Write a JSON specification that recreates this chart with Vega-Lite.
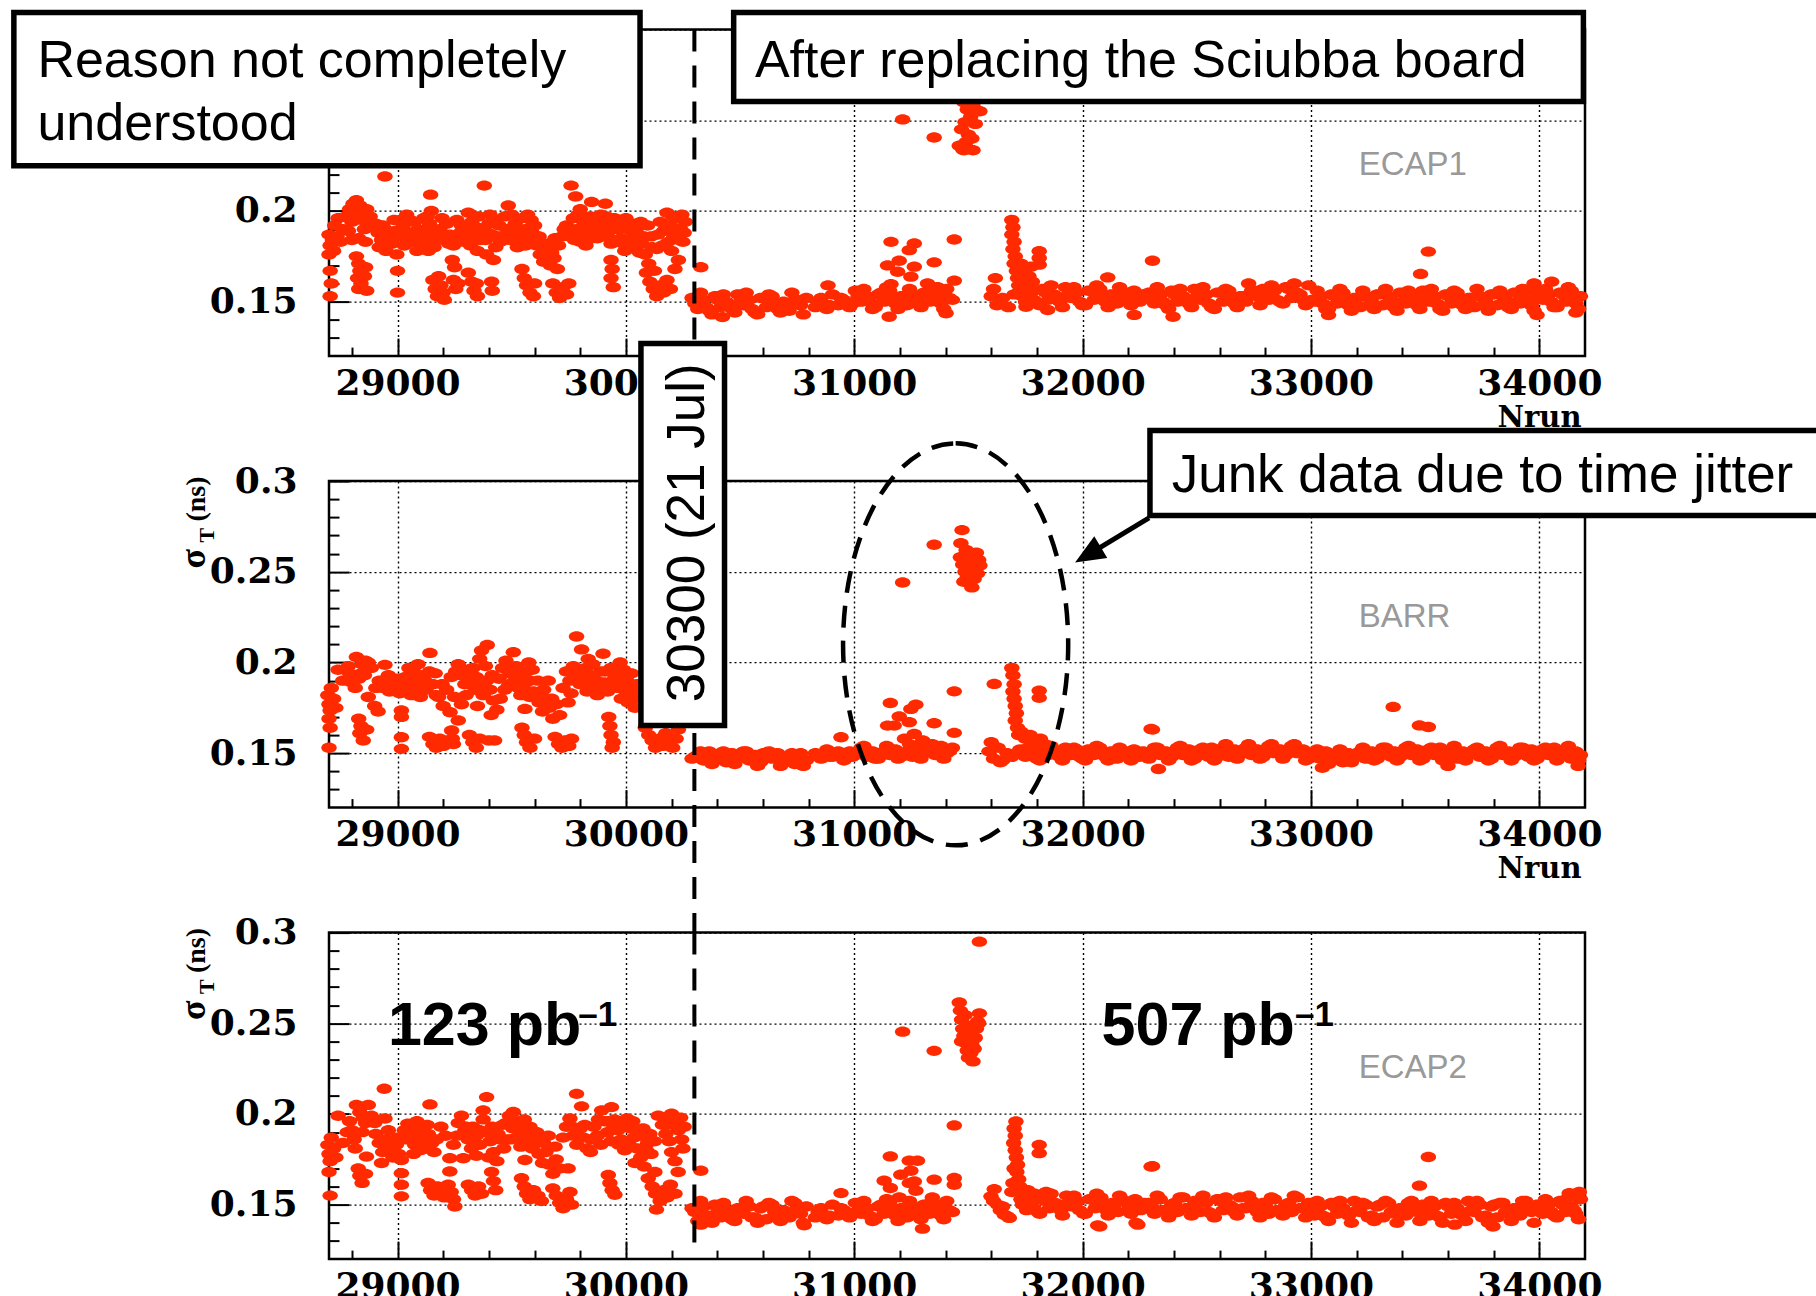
{
  "$schema": "https://vega.github.io/schema/vega-lite/v6.json",
  "autosize": {"type": "none"},
  "padding": {"left": 329, "top": 29.6, "right": 1487, "bottom": 1266.4},
  "background": "white",
  "bounds": "flush",
  "spacing": 124.5,
  "config": {
    "view": {"stroke": "#000", "strokeWidth": 2.5},
    "axis": {"domain": false, "grid": true, "gridColor": "#000", "gridDash": [2, 3], "gridWidth": 1.4, "tickColor": "#000", "tickWidth": 2, "labelColor": "#000", "labelFont": "DejaVu Serif", "labelFontWeight": "bold", "labelFlush": false, "labelOverlap": false, "titleColor": "#000"}
  },
  "datasets": {
    "e1": [
      {"n":28700,"s":0.187},{"n":28705,"s":0.181},{"n":28700,"s":0.176},{"n":28715,"s":0.184},{"n":28720,"s":0.178},{"n":28735,"s":0.186},{"n":28705,"s":0.167},{"n":28710,"s":0.160},{"n":28705,"s":0.153},{"n":28740,"s":0.196},{"n":28760,"s":0.190},
      {"n":28775,"s":0.197},{"n":28790,"s":0.201},{"n":28805,"s":0.204},{"n":28820,"s":0.206},{"n":28835,"s":0.203},{"n":28850,"s":0.199},{"n":28865,"s":0.201},{"n":28880,"s":0.197},{"n":28890,"s":0.193},{"n":28800,"s":0.194},{"n":28845,"s":0.195},{"n":28870,"s":0.192},
      {"n":28800,"s":0.184},{"n":28830,"s":0.185},{"n":28860,"s":0.183},
      {"n":28820,"s":0.175},{"n":28830,"s":0.171},{"n":28835,"s":0.167},{"n":28825,"s":0.163},{"n":28840,"s":0.160},{"n":28830,"s":0.157},{"n":28860,"s":0.169},{"n":28855,"s":0.164},{"n":28865,"s":0.156},
      {"n":28945,"s":0.219},
      {"n":28915,"s":0.188},{"n":28930,"s":0.184},{"n":28945,"s":0.190},{"n":28960,"s":0.186},{"n":28975,"s":0.182},{"n":28990,"s":0.189},{"n":28920,"s":0.180},{"n":28950,"s":0.178},
      {"n":28997,"s":0.176},{"n":29000,"s":0.167},{"n":29000,"s":0.155},
      {"n":29010,"s":0.186},{"n":29020,"s":0.190},{"n":29025,"s":0.192},{"n":29040,"s":0.198},{"n":29050,"s":0.188},{"n":29055,"s":0.195},{"n":29065,"s":0.183},{"n":29075,"s":0.194},{"n":29090,"s":0.190},{"n":29100,"s":0.184},{"n":29105,"s":0.188},{"n":29115,"s":0.196},{"n":29125,"s":0.189},{"n":29140,"s":0.193},{"n":29150,"s":0.185},{"n":29160,"s":0.180},{"n":29030,"s":0.181},{"n":29085,"s":0.178},{"n":29135,"s":0.178},{"n":29170,"s":0.188},
      {"n":29145,"s":0.209},{"n":29148,"s":0.200},
      {"n":29155,"s":0.162},{"n":29165,"s":0.157},{"n":29175,"s":0.153},{"n":29190,"s":0.159},{"n":29200,"s":0.155},{"n":29180,"s":0.164},{"n":29205,"s":0.151},
      {"n":29185,"s":0.190},{"n":29200,"s":0.184},{"n":29215,"s":0.193},{"n":29230,"s":0.187},{"n":29245,"s":0.181},{"n":29260,"s":0.195},{"n":29275,"s":0.188},{"n":29280,"s":0.192},{"n":29290,"s":0.183},{"n":29305,"s":0.191},
      {"n":29240,"s":0.173},{"n":29250,"s":0.169},{"n":29245,"s":0.162},{"n":29255,"s":0.157},{"n":29265,"s":0.160},
      {"n":29310,"s":0.199},{"n":29325,"s":0.194},{"n":29330,"s":0.185},{"n":29340,"s":0.187},{"n":29355,"s":0.197},{"n":29320,"s":0.181},{"n":29350,"s":0.178},
      {"n":29310,"s":0.166},{"n":29325,"s":0.161},{"n":29335,"s":0.156},{"n":29350,"s":0.153},{"n":29345,"s":0.160},
      {"n":29380,"s":0.214},{"n":29370,"s":0.190},{"n":29385,"s":0.184},{"n":29400,"s":0.193},{"n":29405,"s":0.198},{"n":29415,"s":0.187},{"n":29430,"s":0.180},{"n":29440,"s":0.186},{"n":29445,"s":0.192},{"n":29460,"s":0.186},{"n":29390,"s":0.176},{"n":29420,"s":0.173},
      {"n":29412,"s":0.161},{"n":29415,"s":0.156},
      {"n":29470,"s":0.197},{"n":29485,"s":0.203},{"n":29500,"s":0.198},{"n":29510,"s":0.188},{"n":29515,"s":0.193},{"n":29530,"s":0.188},{"n":29545,"s":0.196},{"n":29560,"s":0.190},{"n":29575,"s":0.185},{"n":29585,"s":0.195},{"n":29590,"s":0.188},{"n":29495,"s":0.184},{"n":29525,"s":0.180},{"n":29560,"s":0.181},
      {"n":29545,"s":0.168},{"n":29555,"s":0.163},{"n":29565,"s":0.159},{"n":29580,"s":0.155},{"n":29595,"s":0.153},{"n":29600,"s":0.160},
      {"n":29610,"s":0.181},{"n":29625,"s":0.176},{"n":29640,"s":0.172},{"n":29655,"s":0.178},{"n":29670,"s":0.170},{"n":29685,"s":0.174},{"n":29700,"s":0.168},{"n":29690,"s":0.185},
      {"n":29680,"s":0.160},{"n":29695,"s":0.155},{"n":29710,"s":0.152},{"n":29725,"s":0.158},{"n":29740,"s":0.154},{"n":29750,"s":0.160},
      {"n":29760,"s":0.214},{"n":29780,"s":0.208},{"n":29800,"s":0.201},{"n":29720,"s":0.186},{"n":29740,"s":0.192},{"n":29755,"s":0.186},{"n":29770,"s":0.196},{"n":29775,"s":0.184},{"n":29785,"s":0.190},{"n":29800,"s":0.183},{"n":29815,"s":0.194},{"n":29825,"s":0.181},{"n":29830,"s":0.188},
      {"n":29850,"s":0.205},{"n":29910,"s":0.204},{"n":29845,"s":0.197},{"n":29860,"s":0.191},{"n":29870,"s":0.196},{"n":29875,"s":0.185},{"n":29890,"s":0.198},{"n":29905,"s":0.193},{"n":29920,"s":0.188},{"n":29935,"s":0.182},{"n":29950,"s":0.196},{"n":29960,"s":0.184},{"n":29965,"s":0.190},{"n":29980,"s":0.185},{"n":29995,"s":0.178},
      {"n":29935,"s":0.173},{"n":29940,"s":0.168},{"n":29935,"s":0.163},{"n":29945,"s":0.158},
      {"n":30010,"s":0.190},{"n":30025,"s":0.185},{"n":30030,"s":0.193},{"n":30040,"s":0.179},{"n":30055,"s":0.187},{"n":30060,"s":0.177},{"n":30070,"s":0.182},{"n":30085,"s":0.176},{"n":30100,"s":0.171},{"n":30110,"s":0.186},{"n":30115,"s":0.180},{"n":30125,"s":0.167},{"n":30135,"s":0.179},
      {"n":30090,"s":0.166},{"n":30105,"s":0.161},{"n":30120,"s":0.157},{"n":30135,"s":0.153},{"n":30150,"s":0.159},{"n":30165,"s":0.155},{"n":30180,"s":0.162},{"n":30195,"s":0.157},
      {"n":30150,"s":0.194},{"n":30165,"s":0.189},{"n":30180,"s":0.199},{"n":30185,"s":0.183},{"n":30195,"s":0.192},{"n":30210,"s":0.186},{"n":30225,"s":0.196},{"n":30240,"s":0.190},{"n":30250,"s":0.183},{"n":30245,"s":0.198},{"n":30255,"s":0.188},{"n":30200,"s":0.178},{"n":30230,"s":0.173},{"n":30215,"s":0.168},
      {"n":29015,"s":0.195},{"n":29045,"s":0.184},{"n":29080,"s":0.187},{"n":29110,"s":0.181},{"n":29130,"s":0.197},{"n":29195,"s":0.196},{"n":29225,"s":0.182},{"n":29270,"s":0.185},{"n":29300,"s":0.187},{"n":29345,"s":0.191},{"n":29360,"s":0.184},{"n":29395,"s":0.188},{"n":29425,"s":0.195},{"n":29450,"s":0.183},{"n":29480,"s":0.190},{"n":29505,"s":0.186},{"n":29540,"s":0.184},{"n":29570,"s":0.198},{"n":29600,"s":0.192},{"n":29620,"s":0.186},{"n":29650,"s":0.182},{"n":29675,"s":0.177},{"n":29705,"s":0.181},{"n":29730,"s":0.190},{"n":29790,"s":0.198},{"n":29810,"s":0.187},{"n":29840,"s":0.191},{"n":29855,"s":0.185},{"n":29885,"s":0.190},{"n":29900,"s":0.186},{"n":29915,"s":0.197},{"n":29930,"s":0.191},{"n":29975,"s":0.194},{"n":29990,"s":0.182},{"n":30000,"s":0.196},{"n":30020,"s":0.180},{"n":30045,"s":0.190},{"n":30065,"s":0.194},{"n":30080,"s":0.186},{"n":30095,"s":0.192},{"n":30140,"s":0.187},{"n":30160,"s":0.181},{"n":30175,"s":0.192},{"n":30205,"s":0.197},{"n":30220,"s":0.190},{"n":30235,"s":0.184},{"n":30260,"s":0.194},{"n":28725,"s":0.192},{"n":28750,"s":0.183},{"n":28785,"s":0.189},{"n":28815,"s":0.198},{"n":28855,"s":0.190},{"n":28905,"s":0.193},{"n":28935,"s":0.192},{"n":28985,"s":0.195},
      {"n":30290,"s":0.152},{"n":30315,"s":0.146},{"n":30340,"s":0.151},{"n":30365,"s":0.145},{"n":30390,"s":0.153},{"n":30415,"s":0.147},{"n":30440,"s":0.150},{"n":30465,"s":0.146},{"n":30490,"s":0.154},{"n":30515,"s":0.148},{"n":30540,"s":0.151},{"n":30565,"s":0.144},{"n":30590,"s":0.152},{"n":30615,"s":0.147},{"n":30640,"s":0.153},{"n":30665,"s":0.146},{"n":30690,"s":0.150},{"n":30715,"s":0.145},{"n":30740,"s":0.151},{"n":30765,"s":0.148},{"n":30790,"s":0.152},{"n":30423,"s":0.1415},{"n":30328,"s":0.169},
      {"n":30830,"s":0.147},{"n":30855,"s":0.152},{"n":30880,"s":0.146},{"n":30905,"s":0.154},{"n":30930,"s":0.148},{"n":30955,"s":0.151},{"n":30980,"s":0.147},{"n":30885,"s":0.159},
      {"n":31005,"s":0.156},{"n":31030,"s":0.150},{"n":31055,"s":0.153},{"n":31080,"s":0.146},{"n":31105,"s":0.154},{"n":31130,"s":0.150},{"n":31155,"s":0.156},{"n":31180,"s":0.149},{"n":31205,"s":0.153},{"n":31230,"s":0.148},{"n":31255,"s":0.154},{"n":31280,"s":0.151},{"n":31305,"s":0.155},{"n":31330,"s":0.150},{"n":31355,"s":0.155},{"n":31380,"s":0.149},{"n":31405,"s":0.157},{"n":31430,"s":0.151},
      {"n":31161,"s":0.183},{"n":31146,"s":0.170},{"n":31190,"s":0.1665},{"n":31197,"s":0.1726},{"n":31241,"s":0.1784},{"n":31263,"s":0.1821},{"n":31263,"s":0.1693},{"n":31248,"s":0.1638},{"n":31350,"s":0.1717},{"n":31438,"s":0.1843},{"n":31438,"s":0.1616},{"n":31161,"s":0.1597},{"n":31153,"s":0.1417},{"n":31402,"s":0.1436},{"n":31321,"s":0.160},{"n":31365,"s":0.158},
      {"n":31460,"s":0.236},{"n":31475,"s":0.234},{"n":31490,"s":0.238},{"n":31500,"s":0.242},{"n":31470,"s":0.245},{"n":31485,"s":0.249},{"n":31510,"s":0.252},{"n":31495,"s":0.256},{"n":31480,"s":0.260},{"n":31505,"s":0.264},{"n":31520,"s":0.258},{"n":31530,"s":0.248},{"n":31540,"s":0.262},{"n":31525,"s":0.268},{"n":31545,"s":0.272},{"n":31510,"s":0.275},{"n":31535,"s":0.278},{"n":31490,"s":0.270},{"n":31550,"s":0.255},{"n":31515,"s":0.240},{"n":31480,"s":0.2335},{"n":31520,"s":0.2335},{"n":31212,"s":0.2505},{"n":31350,"s":0.2405},
      {"n":31600,"s":0.153},{"n":31625,"s":0.148},{"n":31650,"s":0.152},{"n":31675,"s":0.147},{"n":31700,"s":0.154},{"n":31618,"s":0.163},{"n":31610,"s":0.157},
      {"n":31690,"s":0.195},{"n":31695,"s":0.191},{"n":31690,"s":0.187},{"n":31700,"s":0.183},{"n":31695,"s":0.179},{"n":31705,"s":0.175},{"n":31700,"s":0.171},{"n":31710,"s":0.167},{"n":31715,"s":0.163},{"n":31720,"s":0.159},{"n":31730,"s":0.171},{"n":31745,"s":0.166},{"n":31765,"s":0.164},{"n":31810,"s":0.1778},{"n":31810,"s":0.1741},{"n":31810,"s":0.1704},{"n":31774,"s":0.1693},{"n":31740,"s":0.160},{"n":31760,"s":0.158},{"n":31780,"s":0.161},
      {"n":31725,"s":0.156},{"n":31750,"s":0.150},{"n":31775,"s":0.155},{"n":31800,"s":0.149},{"n":31825,"s":0.157},{"n":31850,"s":0.151},{"n":31875,"s":0.154},{"n":31900,"s":0.150},{"n":31925,"s":0.158},{"n":31950,"s":0.152},{"n":31975,"s":0.155},{"n":32000,"s":0.148},{"n":32025,"s":0.156},{"n":32050,"s":0.151},{"n":32075,"s":0.157},{"n":32100,"s":0.150},{"n":32125,"s":0.154},{"n":32150,"s":0.149},{"n":32175,"s":0.155},{"n":32200,"s":0.152},{"n":32225,"s":0.156},{"n":32250,"s":0.150},{"n":32265,"s":0.154},{"n":31752,"s":0.1472},{"n":31847,"s":0.1454},{"n":32110,"s":0.1634},{"n":32226,"s":0.1427},
      {"n":32290,"s":0.155},{"n":32315,"s":0.149},{"n":32340,"s":0.154},{"n":32365,"s":0.148},{"n":32390,"s":0.156},{"n":32415,"s":0.150},{"n":32440,"s":0.153},{"n":32465,"s":0.149},{"n":32490,"s":0.157},{"n":32515,"s":0.151},{"n":32540,"s":0.154},{"n":32565,"s":0.147},{"n":32590,"s":0.155},{"n":32615,"s":0.150},{"n":32640,"s":0.156},{"n":32665,"s":0.149},{"n":32690,"s":0.153},{"n":32715,"s":0.150},{"n":32740,"s":0.156},{"n":32765,"s":0.153},{"n":32790,"s":0.157},{"n":32815,"s":0.151},{"n":32840,"s":0.156},{"n":32865,"s":0.150},{"n":32890,"s":0.158},{"n":32915,"s":0.152},{"n":32940,"s":0.155},{"n":32965,"s":0.151},{"n":32990,"s":0.159},
      {"n":33015,"s":0.150},{"n":33040,"s":0.153},{"n":33065,"s":0.146},{"n":33090,"s":0.154},{"n":33115,"s":0.149},{"n":33140,"s":0.155},{"n":33165,"s":0.148},{"n":33190,"s":0.152},{"n":33215,"s":0.147},{"n":33240,"s":0.153},{"n":33265,"s":0.150},{"n":33290,"s":0.154},{"n":33315,"s":0.148},{"n":33340,"s":0.153},{"n":33365,"s":0.147},{"n":33390,"s":0.155},{"n":33415,"s":0.149},{"n":33440,"s":0.152},{"n":33465,"s":0.148},{"n":33490,"s":0.156},{"n":33515,"s":0.150},{"n":33540,"s":0.153},{"n":33565,"s":0.146},{"n":33590,"s":0.154},{"n":33615,"s":0.149},{"n":33640,"s":0.155},{"n":33665,"s":0.148},{"n":33690,"s":0.152},{"n":33715,"s":0.147},{"n":33740,"s":0.153},{"n":33765,"s":0.150},{"n":33790,"s":0.154},{"n":33815,"s":0.148},{"n":33840,"s":0.153},{"n":33865,"s":0.147},{"n":33890,"s":0.155},{"n":33915,"s":0.149},{"n":33940,"s":0.152},{"n":33965,"s":0.148},{"n":33990,"s":0.156},{"n":34015,"s":0.151},{"n":34040,"s":0.154},{"n":34065,"s":0.147},{"n":34090,"s":0.155},{"n":34115,"s":0.150},{"n":34140,"s":0.156},{"n":34160,"s":0.149},{"n":34180,"s":0.153},
      {"n":32306,"s":0.1726},{"n":33514,"s":0.1776},{"n":33480,"s":0.1653},{"n":32396,"s":0.1417},{"n":33077,"s":0.1426},{"n":33990,"s":0.1426},{"n":34160,"s":0.144},{"n":33977,"s":0.160},{"n":34054,"s":0.161},
      {"n":30302,"s":0.149},{"n":30352,"s":0.147},{"n":30402,"s":0.151},{"n":30452,"s":0.148},{"n":30502,"s":0.150},{"n":30552,"s":0.146},{"n":30602,"s":0.152},{"n":30652,"s":0.149},{"n":30702,"s":0.148},{"n":30752,"s":0.151},
      {"n":30842,"s":0.150},{"n":30892,"s":0.148},{"n":30942,"s":0.152},{"n":30992,"s":0.149},
      {"n":31017,"s":0.153},{"n":31067,"s":0.150},{"n":31117,"s":0.155},{"n":31167,"s":0.152},{"n":31217,"s":0.152},{"n":31267,"s":0.150},{"n":31317,"s":0.155},{"n":31367,"s":0.153},{"n":31417,"s":0.152},
      {"n":31737,"s":0.153},{"n":31787,"s":0.151},{"n":31837,"s":0.155},{"n":31887,"s":0.152},{"n":31937,"s":0.154},{"n":31987,"s":0.150},{"n":32037,"s":0.156},{"n":32087,"s":0.153},{"n":32137,"s":0.152},{"n":32187,"s":0.155},{"n":32237,"s":0.153},
      {"n":32302,"s":0.152},{"n":32352,"s":0.150},{"n":32402,"s":0.154},{"n":32452,"s":0.151},{"n":32502,"s":0.153},{"n":32552,"s":0.149},{"n":32602,"s":0.155},{"n":32652,"s":0.152},{"n":32702,"s":0.153},{"n":32752,"s":0.156},{"n":32802,"s":0.154},{"n":32852,"s":0.151},{"n":32902,"s":0.157},{"n":32952,"s":0.154},{"n":33002,"s":0.151},{"n":33052,"s":0.149},{"n":33102,"s":0.153},{"n":33152,"s":0.150},{"n":33202,"s":0.152},{"n":33252,"s":0.148},{"n":33302,"s":0.154},{"n":33352,"s":0.151},{"n":33402,"s":0.150},{"n":33452,"s":0.153},{"n":33502,"s":0.151},{"n":33552,"s":0.149},{"n":33602,"s":0.153},{"n":33652,"s":0.150},{"n":33702,"s":0.152},{"n":33752,"s":0.148},{"n":33802,"s":0.154},{"n":33852,"s":0.151},{"n":33902,"s":0.150},{"n":33952,"s":0.153},{"n":34002,"s":0.152},{"n":34052,"s":0.150},{"n":34102,"s":0.154},{"n":34152,"s":0.151},
      {"n":30327,"s":0.155},{"n":30377,"s":0.143},{"n":30427,"s":0.154},{"n":30477,"s":0.144},{"n":30527,"s":0.155},{"n":30577,"s":0.143},{"n":30627,"s":0.154},{"n":30677,"s":0.144},{"n":30727,"s":0.155},{"n":30777,"s":0.143},
      {"n":31042,"s":0.157},{"n":31092,"s":0.147},{"n":31142,"s":0.158},{"n":31192,"s":0.146},{"n":31242,"s":0.157},{"n":31292,"s":0.147},{"n":31342,"s":0.158},{"n":31392,"s":0.146},
      {"n":31762,"s":0.158},{"n":31812,"s":0.148},{"n":31862,"s":0.159},{"n":31912,"s":0.147},{"n":31962,"s":0.158},{"n":32012,"s":0.148},{"n":32062,"s":0.159},{"n":32112,"s":0.147},{"n":32162,"s":0.158},{"n":32212,"s":0.148},
      {"n":32327,"s":0.158},{"n":32377,"s":0.146},{"n":32427,"s":0.157},{"n":32477,"s":0.147},{"n":32527,"s":0.158},{"n":32577,"s":0.146},{"n":32627,"s":0.157},{"n":32677,"s":0.147},{"n":32727,"s":0.160},{"n":32777,"s":0.148},{"n":32827,"s":0.159},{"n":32877,"s":0.149},{"n":32927,"s":0.160},{"n":32977,"s":0.148},{"n":33027,"s":0.156},{"n":33077,"s":0.146},{"n":33127,"s":0.157},{"n":33177,"s":0.145},{"n":33227,"s":0.156},{"n":33277,"s":0.146},{"n":33327,"s":0.157},{"n":33377,"s":0.145},{"n":33427,"s":0.156},{"n":33477,"s":0.146},{"n":33527,"s":0.157},{"n":33577,"s":0.145},{"n":33627,"s":0.156},{"n":33677,"s":0.146},{"n":33727,"s":0.157},{"n":33777,"s":0.145},{"n":33827,"s":0.156},{"n":33877,"s":0.146},{"n":33927,"s":0.157},{"n":33977,"s":0.145},{"n":34027,"s":0.157},{"n":34077,"s":0.147},{"n":34127,"s":0.158},{"n":34172,"s":0.146}
    ],
    "br": [
      {"n":28695,"s":0.182},{"n":28700,"s":0.177},{"n":28705,"s":0.1735},{"n":28700,"s":0.169},{"n":28705,"s":0.164},{"n":28700,"s":0.153},{"n":28720,"s":0.180},{"n":28730,"s":0.175},{"n":28740,"s":0.196},
      {"n":28790,"s":0.194},{"n":28800,"s":0.189},{"n":28815,"s":0.186},{"n":28830,"s":0.191},{"n":28820,"s":0.203},{"n":28845,"s":0.199},{"n":28860,"s":0.201},{"n":28872,"s":0.200},{"n":28885,"s":0.197},{"n":28840,"s":0.194},
      {"n":28830,"s":0.169},{"n":28840,"s":0.165},{"n":28835,"s":0.161},{"n":28850,"s":0.157},{"n":28865,"s":0.163},
      {"n":28872,"s":0.181},{"n":28900,"s":0.176},{"n":28915,"s":0.173},{"n":28945,"s":0.1987},
      {"n":28920,"s":0.190},{"n":28935,"s":0.186},{"n":28950,"s":0.188},{"n":28965,"s":0.184},{"n":28980,"s":0.190},{"n":28995,"s":0.186},{"n":29010,"s":0.183},
      {"n":29017,"s":0.1735},{"n":29017,"s":0.170},{"n":29017,"s":0.1588},{"n":29017,"s":0.1524},
      {"n":29035,"s":0.192},{"n":29050,"s":0.197},{"n":29065,"s":0.189},{"n":29080,"s":0.194},{"n":29095,"s":0.186},{"n":29110,"s":0.191},{"n":29125,"s":0.185},{"n":29140,"s":0.195},{"n":29155,"s":0.188},{"n":29170,"s":0.182},{"n":29045,"s":0.184},{"n":29100,"s":0.181},{"n":29142,"s":0.2053},
      {"n":29140,"s":0.159},{"n":29155,"s":0.155},{"n":29170,"s":0.153},{"n":29185,"s":0.158},{"n":29200,"s":0.154},
      {"n":29180,"s":0.181},{"n":29200,"s":0.176},{"n":29250,"s":0.181},{"n":29230,"s":0.1726},
      {"n":29237,"s":0.1625},{"n":29240,"s":0.158},{"n":29245,"s":0.155},{"n":29266,"s":0.168},
      {"n":29266,"s":0.199},{"n":29280,"s":0.193},{"n":29295,"s":0.188},{"n":29310,"s":0.196},{"n":29324,"s":0.190},{"n":29280,"s":0.177},
      {"n":29315,"s":0.160},{"n":29330,"s":0.156},{"n":29345,"s":0.153},{"n":29360,"s":0.158},
      {"n":29330,"s":0.197},{"n":29345,"s":0.192},{"n":29360,"s":0.187},{"n":29375,"s":0.182},{"n":29390,"s":0.190},{"n":29405,"s":0.185},{"n":29420,"s":0.179},{"n":29435,"s":0.174},{"n":29360,"s":0.202},{"n":29393,"s":0.2097},{"n":29368,"s":0.2066},{"n":29350,"s":0.176},{"n":29410,"s":0.171},
      {"n":29400,"s":0.157},{"n":29425,"s":0.157},
      {"n":29445,"s":0.191},{"n":29460,"s":0.197},{"n":29475,"s":0.201},{"n":29490,"s":0.194},{"n":29505,"s":0.189},{"n":29520,"s":0.198},{"n":29535,"s":0.192},{"n":29550,"s":0.186},{"n":29565,"s":0.195},{"n":29580,"s":0.190},{"n":29595,"s":0.184},{"n":29507,"s":0.2057},{"n":29470,"s":0.185},{"n":29540,"s":0.182},
      {"n":29545,"s":0.164},{"n":29555,"s":0.160},{"n":29565,"s":0.156},{"n":29580,"s":0.153},{"n":29600,"s":0.158},{"n":29558,"s":0.1744},{"n":29580,"s":0.181},
      {"n":29605,"s":0.183},{"n":29620,"s":0.178},{"n":29635,"s":0.173},{"n":29650,"s":0.180},{"n":29665,"s":0.175},{"n":29680,"s":0.169},{"n":29695,"s":0.177},{"n":29710,"s":0.171},
      {"n":29690,"s":0.159},{"n":29705,"s":0.155},{"n":29720,"s":0.153},{"n":29735,"s":0.157},{"n":29750,"s":0.154},{"n":29762,"s":0.158},{"n":29747,"s":0.178},
      {"n":29740,"s":0.195},{"n":29755,"s":0.190},{"n":29770,"s":0.198},{"n":29785,"s":0.192},{"n":29800,"s":0.188},{"n":29815,"s":0.196},{"n":29830,"s":0.190},{"n":29784,"s":0.2143},{"n":29806,"s":0.2072},{"n":29835,"s":0.202},{"n":29900,"s":0.2048},
      {"n":29830,"s":0.184},{"n":29845,"s":0.193},{"n":29860,"s":0.187},{"n":29875,"s":0.182},{"n":29890,"s":0.195},{"n":29905,"s":0.189},{"n":29920,"s":0.184},{"n":29935,"s":0.197},{"n":29950,"s":0.191},{"n":29965,"s":0.186},{"n":29980,"s":0.180},{"n":29995,"s":0.193},
      {"n":29925,"s":0.170},{"n":29930,"s":0.165},{"n":29935,"s":0.160},{"n":29945,"s":0.156},{"n":29940,"s":0.153},
      {"n":29975,"s":0.200},{"n":29990,"s":0.196},{"n":30005,"s":0.190},{"n":30020,"s":0.185},{"n":30035,"s":0.180},{"n":30040,"s":0.175},{"n":30010,"s":0.178},{"n":30050,"s":0.188},{"n":30058,"s":0.182},
      {"n":30085,"s":0.164},{"n":30100,"s":0.160},{"n":30115,"s":0.157},{"n":30130,"s":0.153},{"n":30145,"s":0.158},{"n":30160,"s":0.154},{"n":30175,"s":0.161},{"n":30190,"s":0.156},{"n":30205,"s":0.153},{"n":30220,"s":0.158},{"n":30230,"s":0.163},
      {"n":28710,"s":0.186},{"n":28760,"s":0.190},{"n":28785,"s":0.198},{"n":28855,"s":0.193},{"n":28905,"s":0.186},{"n":28960,"s":0.193},{"n":29000,"s":0.191},{"n":29025,"s":0.188},{"n":29060,"s":0.182},{"n":29090,"s":0.199},{"n":29120,"s":0.190},{"n":29165,"s":0.194},{"n":29195,"s":0.188},{"n":29215,"s":0.185},{"n":29235,"s":0.192},{"n":29255,"s":0.195},{"n":29300,"s":0.182},{"n":29340,"s":0.185},{"n":29385,"s":0.198},{"n":29415,"s":0.193},{"n":29450,"s":0.180},{"n":29485,"s":0.187},{"n":29515,"s":0.193},{"n":29530,"s":0.186},{"n":29560,"s":0.189},{"n":29575,"s":0.200},{"n":29590,"s":0.196},{"n":29615,"s":0.190},{"n":29640,"s":0.185},{"n":29660,"s":0.190},{"n":29675,"s":0.180},{"n":29725,"s":0.186},{"n":29760,"s":0.183},{"n":29795,"s":0.196},{"n":29825,"s":0.197},{"n":29855,"s":0.199},{"n":29870,"s":0.190},{"n":29885,"s":0.186},{"n":29910,"s":0.195},{"n":29945,"s":0.187},{"n":29960,"s":0.194},{"n":29985,"s":0.189},{"n":30000,"s":0.184},{"n":30025,"s":0.194},{"n":30045,"s":0.184},
      {"n":30290,"s":0.147},{"n":30315,"s":0.149},{"n":30340,"s":0.146},{"n":30365,"s":0.151},{"n":30390,"s":0.147},{"n":30415,"s":0.150},{"n":30440,"s":0.145},{"n":30465,"s":0.150},{"n":30490,"s":0.147},{"n":30515,"s":0.151},{"n":30540,"s":0.146},{"n":30565,"s":0.149},{"n":30590,"s":0.145},{"n":30615,"s":0.149},{"n":30640,"s":0.147},{"n":30665,"s":0.150},{"n":30690,"s":0.145},{"n":30715,"s":0.148},{"n":30740,"s":0.144},{"n":30765,"s":0.150},{"n":30790,"s":0.146},
      {"n":30830,"s":0.150},{"n":30855,"s":0.147},{"n":30880,"s":0.152},{"n":30905,"s":0.148},{"n":30930,"s":0.151},{"n":30955,"s":0.146},{"n":30980,"s":0.151},{"n":30942,"s":0.1588},
      {"n":31005,"s":0.149},{"n":31030,"s":0.153},{"n":31055,"s":0.148},{"n":31080,"s":0.151},{"n":31105,"s":0.147},{"n":31130,"s":0.151},{"n":31155,"s":0.149},{"n":31180,"s":0.152},{"n":31205,"s":0.148},{"n":31230,"s":0.151},{"n":31255,"s":0.148},{"n":31280,"s":0.154},{"n":31305,"s":0.150},{"n":31330,"s":0.152},{"n":31355,"s":0.149},{"n":31380,"s":0.154},{"n":31405,"s":0.150},{"n":31430,"s":0.153},
      {"n":31158,"s":0.1777},{"n":31197,"s":0.1702},{"n":31248,"s":0.1744},{"n":31270,"s":0.1768},{"n":31241,"s":0.1671},{"n":31263,"s":0.1606},{"n":31146,"s":0.1652},{"n":31175,"s":0.1652},{"n":31350,"s":0.1665},{"n":31438,"s":0.1841},{"n":31438,"s":0.1612},{"n":31220,"s":0.158},{"n":31300,"s":0.157},
      {"n":31465,"s":0.258},{"n":31475,"s":0.254},{"n":31485,"s":0.250},{"n":31495,"s":0.247},{"n":31505,"s":0.244},{"n":31515,"s":0.2414},{"n":31480,"s":0.2445},{"n":31500,"s":0.252},{"n":31520,"s":0.256},{"n":31530,"s":0.2525},{"n":31540,"s":0.249},{"n":31545,"s":0.2565},{"n":31535,"s":0.2605},{"n":31510,"s":0.2595},{"n":31490,"s":0.262},{"n":31472,"s":0.273},{"n":31467,"s":0.2658},{"n":31350,"s":0.2649},{"n":31212,"s":0.2441},{"n":31525,"s":0.246},{"n":31550,"s":0.2535},
      {"n":31590,"s":0.151},{"n":31610,"s":0.147},{"n":31630,"s":0.153},{"n":31650,"s":0.146},{"n":31670,"s":0.150},{"n":31690,"s":0.148},{"n":31600,"s":0.156},{"n":31640,"s":0.145},{"n":31613,"s":0.1882},
      {"n":31690,"s":0.197},{"n":31695,"s":0.193},{"n":31700,"s":0.188},{"n":31695,"s":0.184},{"n":31700,"s":0.180},{"n":31705,"s":0.176},{"n":31710,"s":0.172},{"n":31705,"s":0.168},{"n":31715,"s":0.164},{"n":31720,"s":0.160},{"n":31810,"s":0.1845},{"n":31810,"s":0.1805},{"n":31730,"s":0.162},{"n":31750,"s":0.158},{"n":31770,"s":0.160},{"n":31790,"s":0.156},{"n":31815,"s":0.158},{"n":31835,"s":0.155},{"n":31775,"s":0.154},
      {"n":31725,"s":0.152},{"n":31750,"s":0.148},{"n":31775,"s":0.151},{"n":31800,"s":0.147},{"n":31825,"s":0.153},{"n":31850,"s":0.149},{"n":31875,"s":0.151},{"n":31900,"s":0.148},{"n":31925,"s":0.153},{"n":31950,"s":0.149},{"n":31975,"s":0.152},{"n":32000,"s":0.147},{"n":32025,"s":0.152},{"n":32050,"s":0.149},{"n":32075,"s":0.153},{"n":32100,"s":0.148},{"n":32125,"s":0.151},{"n":32150,"s":0.147},{"n":32175,"s":0.151},{"n":32200,"s":0.149},{"n":32225,"s":0.152},{"n":32250,"s":0.148},{"n":32265,"s":0.151},{"n":32300,"s":0.1634},
      {"n":32290,"s":0.147},{"n":32315,"s":0.153},{"n":32340,"s":0.149},{"n":32365,"s":0.151},{"n":32390,"s":0.148},{"n":32415,"s":0.153},{"n":32440,"s":0.149},{"n":32465,"s":0.152},{"n":32490,"s":0.147},{"n":32515,"s":0.152},{"n":32540,"s":0.149},{"n":32565,"s":0.153},{"n":32590,"s":0.148},{"n":32615,"s":0.151},{"n":32640,"s":0.148},{"n":32665,"s":0.152},{"n":32690,"s":0.150},{"n":32715,"s":0.153},{"n":32740,"s":0.149},{"n":32765,"s":0.152},{"n":32790,"s":0.148},{"n":32815,"s":0.154},{"n":32840,"s":0.150},{"n":32865,"s":0.152},{"n":32890,"s":0.149},{"n":32915,"s":0.154},{"n":32940,"s":0.150},{"n":32965,"s":0.152},{"n":32990,"s":0.147},
      {"n":33015,"s":0.150},{"n":33040,"s":0.147},{"n":33065,"s":0.151},{"n":33090,"s":0.146},{"n":33115,"s":0.149},{"n":33140,"s":0.145},{"n":33165,"s":0.150},{"n":33190,"s":0.148},{"n":33215,"s":0.151},{"n":33240,"s":0.147},{"n":33265,"s":0.151},{"n":33290,"s":0.147},{"n":33315,"s":0.153},{"n":33340,"s":0.149},{"n":33365,"s":0.151},{"n":33390,"s":0.148},{"n":33415,"s":0.153},{"n":33440,"s":0.149},{"n":33465,"s":0.152},{"n":33490,"s":0.147},{"n":33515,"s":0.152},{"n":33540,"s":0.149},{"n":33565,"s":0.153},{"n":33590,"s":0.148},{"n":33615,"s":0.151},{"n":33640,"s":0.147},{"n":33665,"s":0.151},{"n":33690,"s":0.149},{"n":33715,"s":0.152},{"n":33740,"s":0.148},{"n":33765,"s":0.151},{"n":33790,"s":0.147},{"n":33815,"s":0.153},{"n":33840,"s":0.149},{"n":33865,"s":0.151},{"n":33890,"s":0.148},{"n":33915,"s":0.153},{"n":33940,"s":0.149},{"n":33965,"s":0.152},{"n":33990,"s":0.147},{"n":34015,"s":0.152},{"n":34040,"s":0.149},{"n":34065,"s":0.153},{"n":34090,"s":0.148},{"n":34115,"s":0.151},{"n":34140,"s":0.147},{"n":34160,"s":0.151},{"n":34180,"s":0.149},
      {"n":32306,"s":0.163},{"n":33360,"s":0.1755},{"n":33475,"s":0.1653},{"n":33514,"s":0.1644},{"n":32332,"s":0.1413},{"n":33050,"s":0.142},{"n":33600,"s":0.143},{"n":34170,"s":0.143},
      {"n":30302,"s":0.148},{"n":30352,"s":0.147},{"n":30402,"s":0.149},{"n":30452,"s":0.147},{"n":30502,"s":0.149},{"n":30552,"s":0.146},{"n":30602,"s":0.150},{"n":30652,"s":0.148},{"n":30702,"s":0.146},{"n":30752,"s":0.148},
      {"n":30842,"s":0.149},{"n":30892,"s":0.148},{"n":30942,"s":0.150},{"n":30992,"s":0.148},
      {"n":31017,"s":0.150},{"n":31067,"s":0.151},{"n":31117,"s":0.149},{"n":31167,"s":0.151},{"n":31217,"s":0.150},{"n":31267,"s":0.149},{"n":31317,"s":0.152},{"n":31367,"s":0.151},{"n":31417,"s":0.151},
      {"n":31737,"s":0.150},{"n":31787,"s":0.149},{"n":31837,"s":0.151},{"n":31887,"s":0.149},{"n":31937,"s":0.150},{"n":31987,"s":0.148},{"n":32037,"s":0.151},{"n":32087,"s":0.150},{"n":32137,"s":0.149},{"n":32187,"s":0.151},{"n":32237,"s":0.150},
      {"n":32302,"s":0.150},{"n":32352,"s":0.149},{"n":32402,"s":0.151},{"n":32452,"s":0.149},{"n":32502,"s":0.150},{"n":32552,"s":0.148},{"n":32602,"s":0.152},{"n":32652,"s":0.151},{"n":32702,"s":0.150},{"n":32752,"s":0.152},{"n":32802,"s":0.150},{"n":32852,"s":0.152},{"n":32902,"s":0.151},{"n":32952,"s":0.150},{"n":33002,"s":0.149},{"n":33052,"s":0.148},{"n":33102,"s":0.147},{"n":33152,"s":0.149},{"n":33202,"s":0.150},{"n":33252,"s":0.148},{"n":33302,"s":0.150},{"n":33352,"s":0.148},{"n":33402,"s":0.151},{"n":33452,"s":0.150},{"n":33502,"s":0.149},{"n":33552,"s":0.151},{"n":33602,"s":0.150},{"n":33652,"s":0.148},{"n":33702,"s":0.150},{"n":33752,"s":0.149},{"n":33802,"s":0.151},{"n":33852,"s":0.149},{"n":33902,"s":0.150},{"n":33952,"s":0.148},{"n":34002,"s":0.151},{"n":34052,"s":0.150},{"n":34102,"s":0.149},{"n":34152,"s":0.150},
      {"n":30327,"s":0.151},{"n":30377,"s":0.144},{"n":30427,"s":0.151},{"n":30477,"s":0.144},{"n":30527,"s":0.151},{"n":30577,"s":0.143},{"n":30627,"s":0.151},{"n":30677,"s":0.143},{"n":30727,"s":0.150},{"n":30777,"s":0.143},
      {"n":31042,"s":0.154},{"n":31092,"s":0.147},{"n":31142,"s":0.154},{"n":31192,"s":0.147},{"n":31242,"s":0.155},{"n":31292,"s":0.147},{"n":31342,"s":0.155},{"n":31392,"s":0.147},
      {"n":31762,"s":0.153},{"n":31812,"s":0.146},{"n":31862,"s":0.154},{"n":31912,"s":0.146},{"n":31962,"s":0.153},{"n":32012,"s":0.146},{"n":32062,"s":0.154},{"n":32112,"s":0.146},{"n":32162,"s":0.153},{"n":32212,"s":0.146},
      {"n":32327,"s":0.153},{"n":32377,"s":0.146},{"n":32427,"s":0.154},{"n":32477,"s":0.146},{"n":32527,"s":0.153},{"n":32577,"s":0.146},{"n":32627,"s":0.155},{"n":32677,"s":0.147},{"n":32727,"s":0.155},{"n":32777,"s":0.147},{"n":32827,"s":0.155},{"n":32877,"s":0.147},{"n":32927,"s":0.155},{"n":32977,"s":0.146},{"n":33027,"s":0.152},{"n":33077,"s":0.144},{"n":33127,"s":0.152},{"n":33177,"s":0.145},{"n":33227,"s":0.153},{"n":33277,"s":0.146},{"n":33327,"s":0.153},{"n":33377,"s":0.146},{"n":33427,"s":0.154},{"n":33477,"s":0.146},{"n":33527,"s":0.153},{"n":33577,"s":0.146},{"n":33627,"s":0.154},{"n":33677,"s":0.146},{"n":33727,"s":0.153},{"n":33777,"s":0.146},{"n":33827,"s":0.154},{"n":33877,"s":0.146},{"n":33927,"s":0.153},{"n":33977,"s":0.146},{"n":34027,"s":0.153},{"n":34077,"s":0.146},{"n":34127,"s":0.154},{"n":34172,"s":0.146}
    ],
    "e2": [
      {"n":28695,"s":0.183},{"n":28700,"s":0.178},{"n":28705,"s":0.174},{"n":28700,"s":0.168},{"n":28705,"s":0.155},{"n":28720,"s":0.181},{"n":28730,"s":0.176},{"n":28740,"s":0.199},
      {"n":28790,"s":0.196},{"n":28800,"s":0.191},{"n":28810,"s":0.186},{"n":28820,"s":0.205},{"n":28835,"s":0.201},{"n":28850,"s":0.198},{"n":28872,"s":0.205},{"n":28860,"s":0.195},{"n":28885,"s":0.199},{"n":28815,"s":0.181},
      {"n":28828,"s":0.170},{"n":28835,"s":0.166},{"n":28845,"s":0.162},{"n":28860,"s":0.167},{"n":28864,"s":0.1765},
      {"n":28942,"s":0.2139},{"n":28945,"s":0.1975},
      {"n":28905,"s":0.189},{"n":28920,"s":0.184},{"n":28935,"s":0.179},{"n":28950,"s":0.186},{"n":28965,"s":0.181},{"n":28980,"s":0.176},{"n":28995,"s":0.183},{"n":29005,"s":0.178},{"n":28930,"s":0.173},
      {"n":29017,"s":0.1746},{"n":29017,"s":0.1673},{"n":29017,"s":0.161},{"n":29017,"s":0.1546},
      {"n":29030,"s":0.191},{"n":29045,"s":0.1947},{"n":29060,"s":0.188},{"n":29075,"s":0.183},{"n":29090,"s":0.191},{"n":29105,"s":0.186},{"n":29120,"s":0.181},{"n":29135,"s":0.189},{"n":29150,"s":0.184},{"n":29160,"s":0.179},{"n":29070,"s":0.178},{"n":29142,"s":0.2053},
      {"n":29134,"s":0.162},{"n":29145,"s":0.158},{"n":29160,"s":0.155},{"n":29175,"s":0.160},{"n":29190,"s":0.156},{"n":29205,"s":0.154},
      {"n":29229,"s":0.1756},{"n":29229,"s":0.1683},{"n":29222,"s":0.161},{"n":29235,"s":0.157},{"n":29245,"s":0.153},{"n":29251,"s":0.149},
      {"n":29266,"s":0.195},{"n":29280,"s":0.199},{"n":29295,"s":0.191},{"n":29310,"s":0.186},{"n":29324,"s":0.181},{"n":29288,"s":0.1756},
      {"n":29310,"s":0.161},{"n":29325,"s":0.158},{"n":29340,"s":0.155},{"n":29355,"s":0.160},{"n":29368,"s":0.156},
      {"n":29330,"s":0.193},{"n":29345,"s":0.188},{"n":29360,"s":0.183},{"n":29375,"s":0.197},{"n":29390,"s":0.2093},{"n":29375,"s":0.202},{"n":29390,"s":0.190},{"n":29405,"s":0.185},{"n":29420,"s":0.179},{"n":29435,"s":0.174},{"n":29450,"s":0.186},{"n":29465,"s":0.181},{"n":29345,"s":0.177},{"n":29400,"s":0.176},
      {"n":29412,"s":0.168},{"n":29420,"s":0.163},{"n":29430,"s":0.158},
      {"n":29475,"s":0.195},{"n":29490,"s":0.199},{"n":29505,"s":0.192},{"n":29520,"s":0.187},{"n":29535,"s":0.196},{"n":29550,"s":0.190},{"n":29565,"s":0.184},{"n":29580,"s":0.193},{"n":29595,"s":0.187},{"n":29507,"s":0.2011},{"n":29480,"s":0.186},{"n":29540,"s":0.182},
      {"n":29543,"s":0.1646},{"n":29555,"s":0.160},{"n":29565,"s":0.156},{"n":29580,"s":0.153},{"n":29595,"s":0.158},{"n":29615,"s":0.155},{"n":29630,"s":0.152},{"n":29558,"s":0.1746},
      {"n":29590,"s":0.181},{"n":29605,"s":0.1847},{"n":29620,"s":0.178},{"n":29635,"s":0.173},{"n":29650,"s":0.179},{"n":29665,"s":0.172},{"n":29680,"s":0.167},{"n":29695,"s":0.175},{"n":29710,"s":0.170},
      {"n":29680,"s":0.159},{"n":29695,"s":0.155},{"n":29710,"s":0.151},{"n":29725,"s":0.148},{"n":29740,"s":0.153},{"n":29755,"s":0.157},{"n":29762,"s":0.150},{"n":29747,"s":0.170},
      {"n":29740,"s":0.193},{"n":29755,"s":0.1975},{"n":29770,"s":0.188},{"n":29785,"s":0.183},{"n":29800,"s":0.192},{"n":29815,"s":0.187},{"n":29830,"s":0.181},{"n":29845,"s":0.179},{"n":29784,"s":0.2111},{"n":29806,"s":0.2042},
      {"n":29860,"s":0.193},{"n":29875,"s":0.188},{"n":29890,"s":0.183},{"n":29894,"s":0.202},{"n":29905,"s":0.196},{"n":29920,"s":0.190},{"n":29935,"s":0.185},{"n":29937,"s":0.2038},{"n":29950,"s":0.197},{"n":29965,"s":0.191},{"n":29980,"s":0.186},{"n":29995,"s":0.180},
      {"n":29923,"s":0.1664},{"n":29930,"s":0.162},{"n":29940,"s":0.158},{"n":29952,"s":0.1555},
      {"n":30005,"s":0.1975},{"n":30020,"s":0.192},{"n":30035,"s":0.187},{"n":30050,"s":0.181},{"n":30065,"s":0.176},{"n":30080,"s":0.171},{"n":30095,"s":0.184},{"n":30110,"s":0.178},{"n":30127,"s":0.168},{"n":30040,"s":0.173},
      {"n":30098,"s":0.1646},{"n":30115,"s":0.160},{"n":30130,"s":0.156},{"n":30134,"s":0.1473},{"n":30150,"s":0.152},{"n":30165,"s":0.158},{"n":30180,"s":0.154},{"n":30195,"s":0.161},{"n":30215,"s":0.156},
      {"n":30142,"s":0.199},{"n":30160,"s":0.194},{"n":30175,"s":0.189},{"n":30190,"s":0.185},{"n":30200,"s":0.2002},{"n":30215,"s":0.196},{"n":30230,"s":0.191},{"n":30244,"s":0.186},{"n":30255,"s":0.193},
      {"n":30200,"s":0.179},{"n":30215,"s":0.174},{"n":30229,"s":0.168},
      {"n":28710,"s":0.187},{"n":28760,"s":0.184},{"n":28780,"s":0.190},{"n":28845,"s":0.190},{"n":28900,"s":0.195},{"n":28960,"s":0.191},{"n":29000,"s":0.187},{"n":29040,"s":0.186},{"n":29085,"s":0.196},{"n":29100,"s":0.180},{"n":29130,"s":0.194},{"n":29170,"s":0.186},{"n":29190,"s":0.193},{"n":29210,"s":0.188},{"n":29245,"s":0.183},{"n":29260,"s":0.188},{"n":29300,"s":0.193},{"n":29335,"s":0.183},{"n":29360,"s":0.191},{"n":29415,"s":0.193},{"n":29440,"s":0.189},{"n":29460,"s":0.194},{"n":29495,"s":0.186},{"n":29525,"s":0.194},{"n":29555,"s":0.197},{"n":29575,"s":0.188},{"n":29610,"s":0.190},{"n":29640,"s":0.184},{"n":29660,"s":0.188},{"n":29690,"s":0.182},{"n":29725,"s":0.187},{"n":29765,"s":0.193},{"n":29790,"s":0.188},{"n":29820,"s":0.194},{"n":29850,"s":0.186},{"n":29880,"s":0.197},{"n":29915,"s":0.196},{"n":29945,"s":0.192},{"n":29970,"s":0.183},{"n":29985,"s":0.195},{"n":30015,"s":0.183},{"n":30030,"s":0.196},{"n":30060,"s":0.188},{"n":30075,"s":0.192},{"n":30090,"s":0.180},{"n":30105,"s":0.189},{"n":30125,"s":0.185},{"n":30170,"s":0.198},{"n":30185,"s":0.194},{"n":30240,"s":0.198},{"n":30250,"s":0.181},
      {"n":30290,"s":0.148},{"n":30315,"s":0.141},{"n":30340,"s":0.149},{"n":30365,"s":0.144},{"n":30390,"s":0.150},{"n":30415,"s":0.143},{"n":30440,"s":0.147},{"n":30465,"s":0.142},{"n":30490,"s":0.148},{"n":30515,"s":0.145},{"n":30540,"s":0.149},{"n":30565,"s":0.143},{"n":30590,"s":0.148},{"n":30615,"s":0.142},{"n":30640,"s":0.150},{"n":30665,"s":0.144},{"n":30690,"s":0.147},{"n":30715,"s":0.143},{"n":30740,"s":0.151},{"n":30765,"s":0.145},{"n":30790,"s":0.149},
      {"n":30328,"s":0.1687},{"n":30328,"s":0.139},{"n":30781,"s":0.1386},
      {"n":30830,"s":0.143},{"n":30855,"s":0.148},{"n":30880,"s":0.142},{"n":30905,"s":0.150},{"n":30930,"s":0.144},{"n":30955,"s":0.147},{"n":30980,"s":0.143},{"n":30942,"s":0.1564},
      {"n":31005,"s":0.151},{"n":31030,"s":0.145},{"n":31055,"s":0.148},{"n":31080,"s":0.141},{"n":31105,"s":0.149},{"n":31130,"s":0.145},{"n":31155,"s":0.151},{"n":31180,"s":0.144},{"n":31205,"s":0.148},{"n":31230,"s":0.143},{"n":31255,"s":0.149},{"n":31280,"s":0.146},{"n":31305,"s":0.150},{"n":31330,"s":0.145},{"n":31355,"s":0.150},{"n":31380,"s":0.144},{"n":31405,"s":0.152},{"n":31430,"s":0.146},
      {"n":31158,"s":0.1766},{"n":31241,"s":0.1742},{"n":31277,"s":0.1742},{"n":31204,"s":0.1665},{"n":31248,"s":0.1687},{"n":31263,"s":0.1628},{"n":31131,"s":0.1632},{"n":31158,"s":0.1592},{"n":31241,"s":0.1619},{"n":31270,"s":0.1577},{"n":31350,"s":0.1638},{"n":31438,"s":0.1937},{"n":31438,"s":0.1647},{"n":31438,"s":0.161},{"n":31299,"s":0.1368},{"n":31197,"s":0.154},{"n":31212,"s":0.2454},{"n":31350,"s":0.2348},
      {"n":31460,"s":0.2615},{"n":31465,"s":0.257},{"n":31470,"s":0.252},{"n":31475,"s":0.247},{"n":31480,"s":0.243},{"n":31490,"s":0.239},{"n":31495,"s":0.235},{"n":31500,"s":0.231},{"n":31510,"s":0.2335},{"n":31515,"s":0.238},{"n":31520,"s":0.229},{"n":31525,"s":0.236},{"n":31530,"s":0.242},{"n":31535,"s":0.247},{"n":31540,"s":0.251},{"n":31548,"s":0.2555},{"n":31545,"s":0.250},{"n":31485,"s":0.2545},{"n":31505,"s":0.2485},{"n":31495,"s":0.2445},{"n":31548,"s":0.295},{"n":31470,"s":0.240},{"n":31525,"s":0.2415},
      {"n":31599,"s":0.1546},{"n":31613,"s":0.1586},{"n":31628,"s":0.150},{"n":31640,"s":0.147},{"n":31657,"s":0.1445},{"n":31670,"s":0.1437},{"n":31679,"s":0.1427},{"n":31610,"s":0.152},{"n":31650,"s":0.149},
      {"n":31708,"s":0.1959},{"n":31700,"s":0.192},{"n":31705,"s":0.188},{"n":31698,"s":0.184},{"n":31705,"s":0.180},{"n":31710,"s":0.176},{"n":31715,"s":0.172},{"n":31712,"s":0.168},{"n":31720,"s":0.164},{"n":31725,"s":0.160},{"n":31730,"s":0.157},{"n":31700,"s":0.170},{"n":31695,"s":0.162},{"n":31690,"s":0.157},{"n":31810,"s":0.183},{"n":31810,"s":0.1784},
      {"n":31730,"s":0.153},{"n":31755,"s":0.147},{"n":31780,"s":0.152},{"n":31805,"s":0.146},{"n":31830,"s":0.154},{"n":31855,"s":0.148},{"n":31880,"s":0.151},{"n":31905,"s":0.147},{"n":31930,"s":0.155},{"n":31955,"s":0.149},{"n":31980,"s":0.152},{"n":32005,"s":0.145},{"n":32030,"s":0.153},{"n":32055,"s":0.148},{"n":32080,"s":0.154},{"n":32105,"s":0.147},{"n":32130,"s":0.151},{"n":32155,"s":0.146},{"n":32180,"s":0.152},{"n":32205,"s":0.149},{"n":32230,"s":0.153},{"n":32255,"s":0.147},{"n":32268,"s":0.151},
      {"n":32066,"s":0.1386},{"n":32234,"s":0.1399},{"n":31760,"s":0.158},{"n":31790,"s":0.156},{"n":31840,"s":0.157},{"n":32300,"s":0.171},
      {"n":32290,"s":0.151},{"n":32315,"s":0.145},{"n":32340,"s":0.153},{"n":32365,"s":0.147},{"n":32390,"s":0.150},{"n":32415,"s":0.146},{"n":32440,"s":0.154},{"n":32465,"s":0.148},{"n":32490,"s":0.152},{"n":32515,"s":0.146},{"n":32540,"s":0.151},{"n":32565,"s":0.145},{"n":32590,"s":0.153},{"n":32615,"s":0.147},{"n":32640,"s":0.150},{"n":32665,"s":0.146},{"n":32690,"s":0.154},{"n":32715,"s":0.148},{"n":32740,"s":0.152},{"n":32765,"s":0.146},{"n":32790,"s":0.151},{"n":32815,"s":0.145},{"n":32840,"s":0.153},{"n":32865,"s":0.147},{"n":32890,"s":0.150},{"n":32915,"s":0.146},{"n":32940,"s":0.154},{"n":32965,"s":0.148},{"n":32990,"s":0.151},
      {"n":33015,"s":0.144},{"n":33040,"s":0.149},{"n":33065,"s":0.143},{"n":33090,"s":0.151},{"n":33115,"s":0.145},{"n":33140,"s":0.148},{"n":33165,"s":0.144},{"n":33190,"s":0.152},{"n":33215,"s":0.146},{"n":33240,"s":0.150},{"n":33265,"s":0.144},{"n":33290,"s":0.149},{"n":33315,"s":0.143},{"n":33340,"s":0.151},{"n":33365,"s":0.145},{"n":33390,"s":0.148},{"n":33415,"s":0.144},{"n":33440,"s":0.152},{"n":33465,"s":0.146},{"n":33490,"s":0.150},{"n":33515,"s":0.144},{"n":33540,"s":0.149},{"n":33565,"s":0.143},{"n":33590,"s":0.151},{"n":33615,"s":0.145},{"n":33640,"s":0.148},{"n":33665,"s":0.144},{"n":33690,"s":0.152},{"n":33715,"s":0.146},{"n":33740,"s":0.150},{"n":33765,"s":0.144},{"n":33790,"s":0.149},{"n":33815,"s":0.143},{"n":33840,"s":0.151},{"n":33865,"s":0.145},{"n":33890,"s":0.148},{"n":33915,"s":0.144},{"n":33940,"s":0.152},{"n":33965,"s":0.146},{"n":33990,"s":0.150},{"n":34015,"s":0.145},{"n":34040,"s":0.150},{"n":34065,"s":0.144},{"n":34090,"s":0.152},{"n":34115,"s":0.146},{"n":34140,"s":0.149},{"n":34160,"s":0.145},{"n":34180,"s":0.153},
      {"n":32306,"s":0.1712},{"n":33514,"s":0.1763},{"n":33475,"s":0.1605},{"n":32075,"s":0.138},{"n":32242,"s":0.139},{"n":33630,"s":0.139},{"n":33797,"s":0.138},{"n":34131,"s":0.1564},{"n":34175,"s":0.157},
      {"n":30302,"s":0.146},{"n":30352,"s":0.144},{"n":30402,"s":0.148},{"n":30452,"s":0.145},{"n":30502,"s":0.147},{"n":30552,"s":0.143},{"n":30602,"s":0.149},{"n":30652,"s":0.146},{"n":30702,"s":0.145},{"n":30752,"s":0.148},
      {"n":30842,"s":0.146},{"n":30892,"s":0.144},{"n":30942,"s":0.148},{"n":30992,"s":0.145},
      {"n":31017,"s":0.147},{"n":31067,"s":0.144},{"n":31117,"s":0.150},{"n":31167,"s":0.147},{"n":31217,"s":0.147},{"n":31267,"s":0.145},{"n":31317,"s":0.150},{"n":31367,"s":0.148},{"n":31417,"s":0.147},
      {"n":31737,"s":0.150},{"n":31787,"s":0.148},{"n":31837,"s":0.152},{"n":31887,"s":0.149},{"n":31937,"s":0.151},{"n":31987,"s":0.147},{"n":32037,"s":0.153},{"n":32087,"s":0.150},{"n":32137,"s":0.149},{"n":32187,"s":0.152},{"n":32237,"s":0.150},
      {"n":32302,"s":0.149},{"n":32352,"s":0.147},{"n":32402,"s":0.151},{"n":32452,"s":0.148},{"n":32502,"s":0.150},{"n":32552,"s":0.146},{"n":32602,"s":0.152},{"n":32652,"s":0.149},{"n":32702,"s":0.148},{"n":32752,"s":0.151},{"n":32802,"s":0.149},{"n":32852,"s":0.147},{"n":32902,"s":0.151},{"n":32952,"s":0.148},{"n":33002,"s":0.147},{"n":33052,"s":0.144},{"n":33102,"s":0.149},{"n":33152,"s":0.146},{"n":33202,"s":0.147},{"n":33252,"s":0.143},{"n":33302,"s":0.150},{"n":33352,"s":0.146},{"n":33402,"s":0.145},{"n":33452,"s":0.148},{"n":33502,"s":0.146},{"n":33552,"s":0.144},{"n":33602,"s":0.149},{"n":33652,"s":0.145},{"n":33702,"s":0.147},{"n":33752,"s":0.143},{"n":33802,"s":0.150},{"n":33852,"s":0.146},{"n":33902,"s":0.145},{"n":33952,"s":0.148},{"n":34002,"s":0.148},{"n":34052,"s":0.146},{"n":34102,"s":0.150},{"n":34152,"s":0.147},
      {"n":30327,"s":0.152},{"n":30377,"s":0.140},{"n":30427,"s":0.151},{"n":30477,"s":0.141},{"n":30527,"s":0.152},{"n":30577,"s":0.140},{"n":30627,"s":0.151},{"n":30677,"s":0.141},{"n":30727,"s":0.152},{"n":30777,"s":0.140},
      {"n":31042,"s":0.152},{"n":31092,"s":0.142},{"n":31142,"s":0.153},{"n":31192,"s":0.141},{"n":31242,"s":0.152},{"n":31292,"s":0.142},{"n":31342,"s":0.154},{"n":31392,"s":0.142},
      {"n":31762,"s":0.155},{"n":31812,"s":0.145},{"n":31862,"s":0.156},{"n":31912,"s":0.144},{"n":31962,"s":0.155},{"n":32012,"s":0.145},{"n":32062,"s":0.156},{"n":32112,"s":0.144},{"n":32162,"s":0.155},{"n":32212,"s":0.145},
      {"n":32327,"s":0.155},{"n":32377,"s":0.143},{"n":32427,"s":0.154},{"n":32477,"s":0.144},{"n":32527,"s":0.155},{"n":32577,"s":0.143},{"n":32627,"s":0.154},{"n":32677,"s":0.144},{"n":32727,"s":0.155},{"n":32777,"s":0.143},{"n":32827,"s":0.154},{"n":32877,"s":0.144},{"n":32927,"s":0.155},{"n":32977,"s":0.143},{"n":33027,"s":0.152},{"n":33077,"s":0.141},{"n":33127,"s":0.152},{"n":33177,"s":0.140},{"n":33227,"s":0.151},{"n":33277,"s":0.141},{"n":33327,"s":0.152},{"n":33377,"s":0.140},{"n":33427,"s":0.151},{"n":33477,"s":0.141},{"n":33527,"s":0.152},{"n":33577,"s":0.140},{"n":33627,"s":0.151},{"n":33677,"s":0.141},{"n":33727,"s":0.152},{"n":33777,"s":0.140},{"n":33827,"s":0.151},{"n":33877,"s":0.141},{"n":33927,"s":0.152},{"n":33977,"s":0.140},{"n":34027,"s":0.153},{"n":34077,"s":0.143},{"n":34127,"s":0.154},{"n":34172,"s":0.142}
    ]
  },
  "vconcat": [
    {
      "width": 1256,
      "height": 326.5,
      "encoding": {
        "x": {"field": "n", "type": "quantitative",
          "scale": {"domain": [28700, 34200], "nice": false, "zero": false},
          "axis": {"values": [28800,29000,29200,29400,29600,29800,30000,30200,30400,30600,30800,31000,31200,31400,31600,31800,32000,32200,32400,32600,32800,33000,33200,33400,33600,33800,34000],
            "labelExpr": "datum.value % 1000 == 0 ? format(datum.value, 'd') : ''",
            "labelFontSize": 36, "labelPadding": 28, "labelBaseline": "top",
            "tickSize": {"condition": {"test": "datum.value % 1000 == 0", "value": -18}, "value": -9},
            "gridOpacity": {"condition": {"test": "datum.value % 1000 == 0", "value": 1}, "value": 0},
            "title": "Nrun", "titleFont": "DejaVu Serif", "titleFontWeight": "bold", "titleFontSize": 29, "titleX": 1252, "titleY": 70, "titleAlign": "right", "titleBaseline": "alphabetic", "titleAngle": 0}},
        "y": {"field": "s", "type": "quantitative",
          "scale": {"domain": [0.12, 0.3], "nice": false, "zero": false},
          "axis": {"values": [0.13,0.14,0.15,0.16,0.17,0.18,0.19,0.2,0.21,0.22,0.23,0.24,0.25,0.26,0.27,0.28,0.29,0.3],
            "labelExpr": "round(datum.value * 100) % 5 == 0 && datum.value < 0.24 ? format(datum.value, '~g') : ''",
            "labelFontSize": 36, "labelPadding": 52, "labelBaseline": "middle",
            "tickSize": {"condition": {"test": "round(datum.value * 100) % 5 == 0", "value": -20}, "value": -10},
            "gridOpacity": {"condition": {"test": "round(datum.value * 100) % 5 == 0", "value": 1}, "value": 0},
            "title": null}}
      },
      "layer": [
        {"data": {"name": "e1"},
         "mark": {"type": "point", "shape": "M -1 0 C -1 -0.37 -0.55 -0.67 0 -0.67 C 0.55 -0.67 1 -0.37 1 0 C 1 0.37 0.55 0.67 0 0.67 C -0.55 0.67 -1 0.37 -1 0 Z", "size": 240, "filled": true, "color": "#ff2a00", "opacity": 1, "strokeWidth": 0}},
        {"data": {"values": [{"n": 30300, "s": 0.3, "s2": 0.0514}]},
         "mark": {"type": "rule", "color": "#000", "strokeWidth": 4, "strokeDash": [22, 14]},
         "encoding": {"y2": {"field": "s2"}}},
        {"data": {"values": [{"n": 27320, "n2": 30062, "s": 0.3094, "s2": 0.225}, {"n": 30472, "n2": 34193, "s": 0.3094, "s2": 0.2603}]},
         "mark": {"type": "rect", "fill": "#fff", "stroke": "#000", "strokeWidth": 5.5},
         "encoding": {"x2": {"field": "n2"}, "y2": {"field": "s2"}}},
        {"data": {"values": [{"n": 27423, "s": 0.2737, "t": "Reason not completely"}, {"n": 27423, "s": 0.2391, "t": "understood"}, {"n": 30565, "s": 0.2737, "t": "After replacing the Sciubba board"}]},
         "mark": {"type": "text", "align": "left", "baseline": "alphabetic", "font": "Liberation Sans", "fontSize": 52, "color": "#000"},
         "encoding": {"text": {"field": "t"}}},
        {"data": {"values": [{"n": 33209, "s": 0.2198, "t": "ECAP1"}]},
         "mark": {"type": "text", "align": "left", "baseline": "alphabetic", "font": "Liberation Sans", "fontSize": 33, "color": "#999"},
         "encoding": {"text": {"field": "t"}}}
      ]
    },
    {
      "width": 1256,
      "height": 326.5,
      "encoding": {
        "x": {"field": "n", "type": "quantitative",
          "scale": {"domain": [28700, 34200], "nice": false, "zero": false},
          "axis": {"values": [28800,29000,29200,29400,29600,29800,30000,30200,30400,30600,30800,31000,31200,31400,31600,31800,32000,32200,32400,32600,32800,33000,33200,33400,33600,33800,34000],
            "labelExpr": "datum.value % 1000 == 0 ? format(datum.value, 'd') : ''",
            "labelFontSize": 36, "labelPadding": 28, "labelBaseline": "top",
            "tickSize": {"condition": {"test": "datum.value % 1000 == 0", "value": -18}, "value": -9},
            "gridOpacity": {"condition": {"test": "datum.value % 1000 == 0", "value": 1}, "value": 0},
            "title": "Nrun", "titleFont": "DejaVu Serif", "titleFontWeight": "bold", "titleFontSize": 29, "titleX": 1252, "titleY": 70, "titleAlign": "right", "titleBaseline": "alphabetic", "titleAngle": 0}},
        "y": {"field": "s", "type": "quantitative",
          "scale": {"domain": [0.12, 0.3], "nice": false, "zero": false},
          "axis": {"values": [0.13,0.14,0.15,0.16,0.17,0.18,0.19,0.2,0.21,0.22,0.23,0.24,0.25,0.26,0.27,0.28,0.29,0.3],
            "labelExpr": "round(datum.value * 100) % 5 == 0 ? format(datum.value, '~g') : ''",
            "labelFontSize": 36, "labelPadding": 52, "labelBaseline": "middle",
            "tickSize": {"condition": {"test": "round(datum.value * 100) % 5 == 0", "value": -20}, "value": -10},
            "gridOpacity": {"condition": {"test": "round(datum.value * 100) % 5 == 0", "value": 1}, "value": 0},
            "title": null}}
      },
      "layer": [
        {"data": {"name": "br"},
         "mark": {"type": "point", "shape": "M -1 0 C -1 -0.37 -0.55 -0.67 0 -0.67 C 0.55 -0.67 1 -0.37 1 0 C 1 0.37 0.55 0.67 0 0.67 C -0.55 0.67 -1 0.37 -1 0 Z", "size": 240, "filled": true, "color": "#ff2a00", "opacity": 1, "strokeWidth": 0}},
        {"data": {"values": [{"n": 30300, "s": 0.3, "s2": 0.0514}]},
         "mark": {"type": "rule", "color": "#000", "strokeWidth": 4, "strokeDash": [22, 14]},
         "encoding": {"y2": {"field": "s2"}}},
        {"data": {"values": [{"n": 31444, "s": 0.21}]},
         "mark": {"type": "point", "shape": "M 0 -1 C 0.309 -1 0.56 -0.552 0.56 0 C 0.56 0.552 0.309 1 0 1 C -0.309 1 -0.56 0.552 -0.56 0 C -0.56 -0.552 -0.309 -1 0 -1 Z", "size": 161604, "filled": false, "stroke": "#000", "strokeWidth": 4.5, "strokeDash": [22, 13], "opacity": 1}},
        {"data": {"values": [{"n": 32291, "s": 0.2797, "n2": 32054, "s2": 0.2617}]},
         "mark": {"type": "rule", "color": "#000", "strokeWidth": 5},
         "encoding": {"x2": {"field": "n2"}, "y2": {"field": "s2"}}},
        {"data": {"values": [{"n": 31967, "s": 0.2551}]},
         "mark": {"type": "point", "shape": "M 0 0 L -0.42 1 L 0.42 1 Z", "size": 3600, "angle": 239, "filled": true, "color": "#000", "opacity": 1, "strokeWidth": 0}},
        {"data": {"values": [{"n": 30066, "n2": 30432, "s": 0.3759, "s2": 0.1653}, {"n": 32295, "n2": 35273, "s": 0.3279, "s2": 0.281}]},
         "mark": {"type": "rect", "fill": "#fff", "stroke": "#000", "strokeWidth": 5.5},
         "encoding": {"x2": {"field": "n2"}, "y2": {"field": "s2"}}},
        {"data": {"values": [{"n": 30342, "s": 0.1781, "t": "30300 (21 Jul)"}]},
         "mark": {"type": "text", "angle": 270, "align": "left", "baseline": "alphabetic", "font": "Liberation Sans", "fontSize": 53, "color": "#000"},
         "encoding": {"text": {"field": "t"}}},
        {"data": {"values": [{"n": 32390, "s": 0.2939, "t": "Junk data due to time jitter"}]},
         "mark": {"type": "text", "align": "left", "baseline": "alphabetic", "font": "Liberation Sans", "fontSize": 53, "color": "#000"},
         "encoding": {"text": {"field": "t"}}},
        {"data": {"values": [{"n": 33209, "s": 0.2198, "t": "BARR"}]},
         "mark": {"type": "text", "align": "left", "baseline": "alphabetic", "font": "Liberation Sans", "fontSize": 33, "color": "#999"},
         "encoding": {"text": {"field": "t"}}},
        {"data": {"values": [{"n": 28157, "s": 0.2518, "t": "σ"}]},
         "mark": {"type": "text", "angle": 270, "align": "left", "baseline": "alphabetic", "font": "Liberation Serif", "fontWeight": "bold", "fontSize": 36, "color": "#000"},
         "encoding": {"text": {"field": "t"}}},
        {"data": {"values": [{"n": 28157, "s": 0.2777, "t": "(ns)"}]},
         "mark": {"type": "text", "angle": 270, "align": "left", "baseline": "alphabetic", "font": "Liberation Serif", "fontWeight": "bold", "fontSize": 28, "color": "#000"},
         "encoding": {"text": {"field": "t"}}},
        {"data": {"values": [{"n": 28196, "s": 0.2662, "t": "T"}]},
         "mark": {"type": "text", "angle": 270, "align": "left", "baseline": "alphabetic", "font": "Liberation Serif", "fontWeight": "bold", "fontSize": 22, "color": "#000"},
         "encoding": {"text": {"field": "t"}}}
      ]
    },
    {
      "width": 1256,
      "height": 326.5,
      "encoding": {
        "x": {"field": "n", "type": "quantitative",
          "scale": {"domain": [28700, 34200], "nice": false, "zero": false},
          "axis": {"values": [28800,29000,29200,29400,29600,29800,30000,30200,30400,30600,30800,31000,31200,31400,31600,31800,32000,32200,32400,32600,32800,33000,33200,33400,33600,33800,34000],
            "labelExpr": "datum.value % 1000 == 0 ? format(datum.value, 'd') : ''",
            "labelFontSize": 36, "labelPadding": 28, "labelBaseline": "top",
            "tickSize": {"condition": {"test": "datum.value % 1000 == 0", "value": -18}, "value": -9},
            "gridOpacity": {"condition": {"test": "datum.value % 1000 == 0", "value": 1}, "value": 0},
            "title": null}},
        "y": {"field": "s", "type": "quantitative",
          "scale": {"domain": [0.12, 0.3], "nice": false, "zero": false},
          "axis": {"values": [0.13,0.14,0.15,0.16,0.17,0.18,0.19,0.2,0.21,0.22,0.23,0.24,0.25,0.26,0.27,0.28,0.29,0.3],
            "labelExpr": "round(datum.value * 100) % 5 == 0 ? format(datum.value, '~g') : ''",
            "labelFontSize": 36, "labelPadding": 52, "labelBaseline": "middle",
            "tickSize": {"condition": {"test": "round(datum.value * 100) % 5 == 0", "value": -20}, "value": -10},
            "gridOpacity": {"condition": {"test": "round(datum.value * 100) % 5 == 0", "value": 1}, "value": 0},
            "title": null}}
      },
      "layer": [
        {"data": {"name": "e2"},
         "mark": {"type": "point", "shape": "M -1 0 C -1 -0.37 -0.55 -0.67 0 -0.67 C 0.55 -0.67 1 -0.37 1 0 C 1 0.37 0.55 0.67 0 0.67 C -0.55 0.67 -1 0.37 -1 0 Z", "size": 240, "filled": true, "color": "#ff2a00", "opacity": 1, "strokeWidth": 0}},
        {"data": {"values": [{"n": 30300, "s": 0.3, "s2": 0.1252}]},
         "mark": {"type": "rule", "color": "#000", "strokeWidth": 4, "strokeDash": [22, 14]},
         "encoding": {"y2": {"field": "s2"}}},
        {"data": {"values": [{"n": 28958, "s": 0.2383, "t": "123 pb"}, {"n": 32083, "s": 0.2383, "t": "507 pb"}]},
         "mark": {"type": "text", "align": "left", "baseline": "alphabetic", "font": "Liberation Sans", "fontWeight": "bold", "fontSize": 61, "color": "#000"},
         "encoding": {"text": {"field": "t"}}},
        {"data": {"values": [{"n": 29792, "s": 0.2485, "t": "–1"}, {"n": 32930, "s": 0.2485, "t": "–1"}]},
         "mark": {"type": "text", "align": "left", "baseline": "alphabetic", "font": "Liberation Sans", "fontWeight": "bold", "fontSize": 35, "color": "#000"},
         "encoding": {"text": {"field": "t"}}},
        {"data": {"values": [{"n": 33209, "s": 0.2198, "t": "ECAP2"}]},
         "mark": {"type": "text", "align": "left", "baseline": "alphabetic", "font": "Liberation Sans", "fontSize": 33, "color": "#999"},
         "encoding": {"text": {"field": "t"}}},
        {"data": {"values": [{"n": 28157, "s": 0.2518, "t": "σ"}]},
         "mark": {"type": "text", "angle": 270, "align": "left", "baseline": "alphabetic", "font": "Liberation Serif", "fontWeight": "bold", "fontSize": 36, "color": "#000"},
         "encoding": {"text": {"field": "t"}}},
        {"data": {"values": [{"n": 28157, "s": 0.2777, "t": "(ns)"}]},
         "mark": {"type": "text", "angle": 270, "align": "left", "baseline": "alphabetic", "font": "Liberation Serif", "fontWeight": "bold", "fontSize": 28, "color": "#000"},
         "encoding": {"text": {"field": "t"}}},
        {"data": {"values": [{"n": 28196, "s": 0.2662, "t": "T"}]},
         "mark": {"type": "text", "angle": 270, "align": "left", "baseline": "alphabetic", "font": "Liberation Serif", "fontWeight": "bold", "fontSize": 22, "color": "#000"},
         "encoding": {"text": {"field": "t"}}}
      ]
    }
  ]
}
